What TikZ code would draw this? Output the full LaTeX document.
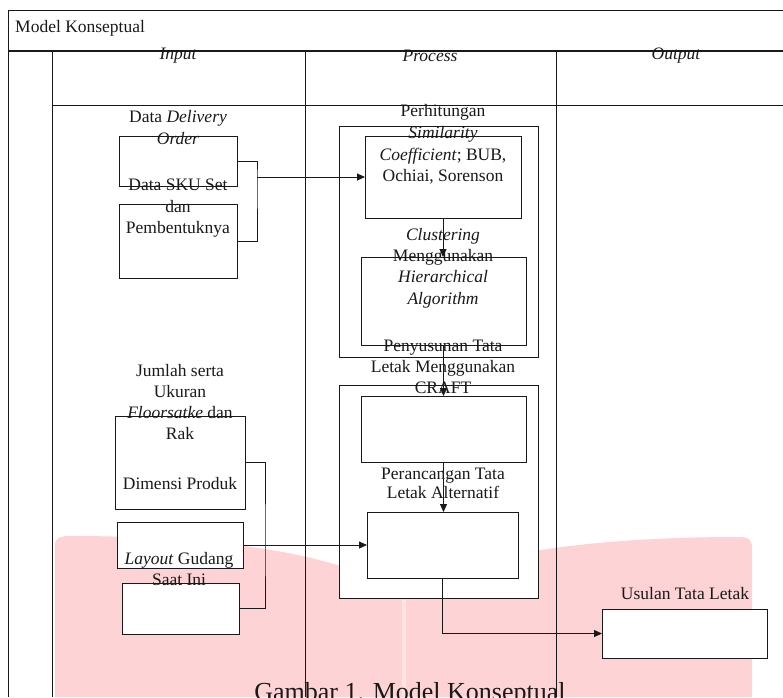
\documentclass[tikz,border=0pt]{standalone}
\usepackage{fontspec}
\setmainfont{Liberation Serif}
\usetikzlibrary{arrows.meta}
\definecolor{wm}{RGB}{253,211,213}
\definecolor{wmlight}{RGB}{254,226,228}
\definecolor{ink}{RGB}{25,25,25}
\tikzset{
  box/.style={draw=ink, line width=0.9pt, fill=white, inner sep=0pt, outer sep=0pt, anchor=north west},
  lbl/.style={align=center, font=\fontsize{17.5}{21.5}\selectfont, text=ink, inner sep=0pt},
  arr/.style={draw=ink, line width=0.9pt, -{Triangle[length=8pt,width=7pt]}},
  conn/.style={draw=ink, line width=0.9pt},
  frame/.style={draw=ink, line width=1pt},
}
\begin{document}
\begin{tikzpicture}[x=1pt,y=-1pt]
\useasboundingbox (0,0) rectangle (783,697);
% watermark
\fill[wm] (55,545) .. controls (55,538) and (60,536) .. (70,536)
  .. controls (250,536) and (370,562) .. (403,600)
  .. controls (436,562) and (560,537) .. (738,537)
  .. controls (748,537) and (752,539) .. (752,548)
  -- (752,697) -- (55,697) -- cycle;
\fill[wmlight] (402,600) rectangle (406,697);
% caption
\node[lbl, font=\fontsize{26}{30}\selectfont, anchor=base] (cap) at (410,700) {Gambar 1. Model Konseptual};
% frame
\node[lbl, anchor=west] (title) at (15,28) {Model Konseptual};
\node[lbl] (hin) at (178,56) {\itshape Input};
\node[lbl] (hpr) at (430,56) {\itshape Process};
\node[lbl] (hou) at (676,56) {\itshape Output};
\draw[frame] (783,10) -- (8,10) -- (8,697);
\draw[frame, line width=2pt] (8,51) -- (783,51);
\draw[frame] (52,51) -- (52,697);
\draw[frame] (305,51) -- (305,697);
\draw[frame] (556,51) -- (556,697);
\draw[frame] (52,105) -- (783,105);
% process group boxes
\node[box, minimum width=199pt, minimum height=231pt] (G1) at (339,126) {};
\node[box, minimum width=199pt, minimum height=213pt] (G2) at (339,385) {};
% boxes
\node[box, minimum width=118pt, minimum height=50pt] (A) at (119,136) {};
\node[box, minimum width=118pt, minimum height=74pt] (B) at (119,204) {};
\node[box, minimum width=156pt, minimum height=82pt] (P1) at (365,136) {};
\node[box, minimum width=165pt, minimum height=88pt] (P2) at (361,257) {};
\node[box, minimum width=165pt, minimum height=66pt] (P3) at (361,396) {};
\node[box, minimum width=151pt, minimum height=66pt] (P4) at (367,512) {};
\node[box, minimum width=130pt, minimum height=93pt] (C) at (115,416) {};
\node[box, minimum width=126pt, minimum height=46pt] (D) at (117,522) {};
\node[box, minimum width=117pt, minimum height=51pt] (E) at (122,583) {};
\node[box, minimum width=165pt, minimum height=49pt] (U) at (602,609) {};
% connectors
\coordinate (k1) at (257,177);
\coordinate (k2) at (265,545);
\draw[conn] (A.east) -| (k1) |- (B.east);
\draw[arr] (k1) -- (P1.west |- k1);
\draw[arr] (P1.south) -- (P2.north -| P1.south);
\draw[arr] (P2.south) -- (P3.north -| P2.south);
\draw[arr] (P3.south) -- (P4.north -| P3.south);
\draw[conn] (C.east) -| (k2) |- (E.east);
\draw[arr] (D.east) -- (P4.west |- D.east);
\draw[arr] (P4.south) |- (U.west);
% labels
\node[lbl, font=\fontsize{17.5}{22}\selectfont] (tA) at (178,128) {Data \textit{Delivery}\\\textit{Order}};
\node[lbl] (tB) at (178,208.5) {Data SKU Set\\dan\\Pembentuknya};
\node[lbl, font=\fontsize{17.5}{21.7}\selectfont] (tP1) at (443,144.5) {Perhitungan\\\textit{Similarity}\\\textit{Coefficient}; BUB,\\Ochiai, Sorenson};
\node[lbl, font=\fontsize{17.5}{21.3}\selectfont] (tP2) at (443,268) {\textit{Clustering}\\Menggunakan\\\textit{Hierarchical}\\\textit{Algorithm}};
\node[lbl, font=\fontsize{17.5}{21}\selectfont] (tP3) at (443,367) {Penyusunan Tata\\Letak Menggunakan\\CRAFT};
\node[lbl, font=\fontsize{17.5}{19.5}\selectfont] (tP4) at (443,483.5) {Perancangan Tata\\Letak Alternatif};
\node[lbl, font=\fontsize{17.5}{21.3}\selectfont] (tC) at (180,402) {Jumlah serta\\Ukuran\\\textit{Floorsatke} dan\\Rak};
\node[lbl] (tC2) at (180,484) {Dimensi Produk};
\node[lbl, font=\fontsize{17.5}{21}\selectfont] (tD) at (179,568.5) {\textit{Layout} Gudang\\Saat Ini};
\node[lbl] (tU) at (685,593) {Usulan Tata Letak};
\end{tikzpicture}
\end{document}
